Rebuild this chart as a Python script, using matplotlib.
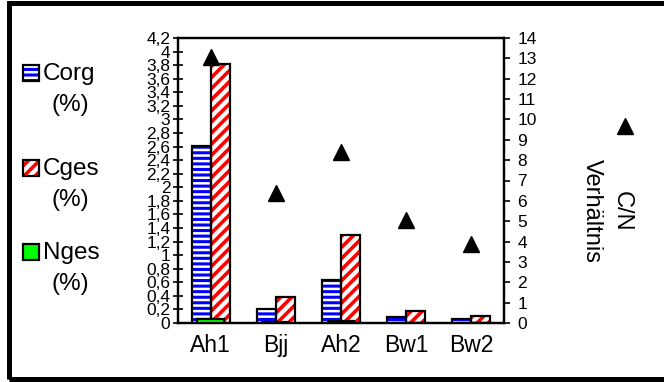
import matplotlib
matplotlib.use("Agg")
import matplotlib.pyplot as plt
import numpy as np
from matplotlib.patches import Rectangle
from matplotlib.lines import Line2D

plt.rcParams['font.family'] = ['Liberation Sans', 'DejaVu Sans']

# Soil horizons and measured values
horizons = ["Ah1", "Bjj", "Ah2", "Bw1", "Bw2"]
corg = [2.61, 0.21, 0.63, 0.09, 0.06]      # % (left axis)
cges = [3.81, 0.39, 1.30, 0.18, 0.10]      # % (left axis)
nges = [0.20, 0.03, 0.075, 0.018, 0.015]   # % (right axis)
cn_ratio = [13.08, 6.38, 8.41, 5.06, 3.88] # C/N (right axis)

left_ticks = [round(0.2 * i, 1) for i in range(22)]
right_ticks = list(range(15))

W, H = 664, 382
fig = plt.figure(figsize=(W / 100, H / 100), dpi=100)

def fx(px):
    return px / W

def fy(py):
    return 1 - py / H

ax = fig.add_axes([fx(178), fy(323), fx(504) - fx(178), fy(38) - fy(323)])
ax2 = ax.twinx()

x = np.arange(len(horizons))
bw = 0.29
blue = "#0000FF"
red = "#FF0000"
green = "#00FF00"
corg_hatch = "---"
cges_hatch = "///"

with plt.rc_context({'hatch.linewidth': 2.2}):
    ax.bar(x - bw / 2, corg, bw, color="white", edgecolor=blue, hatch=corg_hatch,
           linewidth=0, zorder=2)
with plt.rc_context({'hatch.linewidth': 2.6}):
    ax.bar(x + bw / 2, cges, bw, color="white", edgecolor=red, hatch=cges_hatch,
           linewidth=0, zorder=2)
ax.bar(x - bw / 2, corg, bw, fill=False, edgecolor="black", linewidth=1.6, zorder=3)
ax.bar(x + bw / 2, cges, bw, fill=False, edgecolor="black", linewidth=1.6, zorder=3)

ax2.bar(x, nges, 0.41, color=green, edgecolor="black", linewidth=1.6, zorder=3)
ax2.plot(x, cn_ratio, linestyle="none", marker="^", markersize=11,
         color="black", zorder=4)

ax.set_xlim(-0.5, len(horizons) - 0.5)
ax.set_ylim(0, 4.2)
ax2.set_ylim(0, 14)

ax.set_yticks(left_ticks)
ax.set_yticklabels([f"{v:g}".replace(".", ",") for v in left_ticks], fontsize=12.5)
ax2.set_yticks(right_ticks)
ax2.set_yticklabels([str(v) for v in right_ticks], fontsize=12.5)

ax.set_xticks(x)
ax.set_xticklabels(horizons, fontsize=16.5)
ax.tick_params(axis="x", length=0, pad=8)
ax.tick_params(axis="y", direction="inout", length=7, width=1.2, pad=2)
ax2.tick_params(axis="y", direction="out", length=4.5, width=1.2, pad=5)

for a in (ax, ax2):
    for s in a.spines.values():
        s.set_linewidth(1.6)

# Legend on the left
legend_rows = [
    ("Corg", 65, dict(facecolor="white", edgecolor=blue, hatch=corg_hatch), 2.2),
    ("Cges", 160, dict(facecolor="white", edgecolor=red, hatch=cges_hatch), 2.6),
    ("Nges", 244, dict(facecolor=green, edgecolor=green), 1.0),
]
for label, top, style, hlw in legend_rows:
    with plt.rc_context({'hatch.linewidth': hlw}):
        fig.patches.append(Rectangle((fx(23), fy(top + 16)), fx(16), fy(top) - fy(top + 16),
                                     transform=fig.transFigure, linewidth=0, **style))
    fig.patches.append(Rectangle((fx(23), fy(top + 16)), fx(16), fy(top) - fy(top + 16),
                                 transform=fig.transFigure, fill=False,
                                 edgecolor="black", linewidth=1.6))
    fig.text(fx(43), fy(top + 9), label, fontsize=17.5, ha="left", va="center")
    fig.text(fx(70), fy(top + 40), "(%)", fontsize=17.5, ha="center", va="center")

# Legend on the right
fig.lines.append(Line2D([fx(625)], [fy(126)], transform=fig.transFigure,
                        linestyle="none", marker="^", markersize=11, color="black"))
fig.text(fx(622), fy(211), "C/N", fontsize=17, rotation=270, ha="center", va="center")
fig.text(fx(592), fy(211), "Verhältnis", fontsize=17, rotation=270,
         ha="center", va="center")

# Outer frame (right edge runs past the canvas)
fig.patches.append(Rectangle((fx(9), fy(379)), fx(680) - fx(9), fy(3) - fy(379),
                             transform=fig.transFigure, fill=False,
                             edgecolor="black", linewidth=3.6))

fig.savefig("out.png", dpi=100)
